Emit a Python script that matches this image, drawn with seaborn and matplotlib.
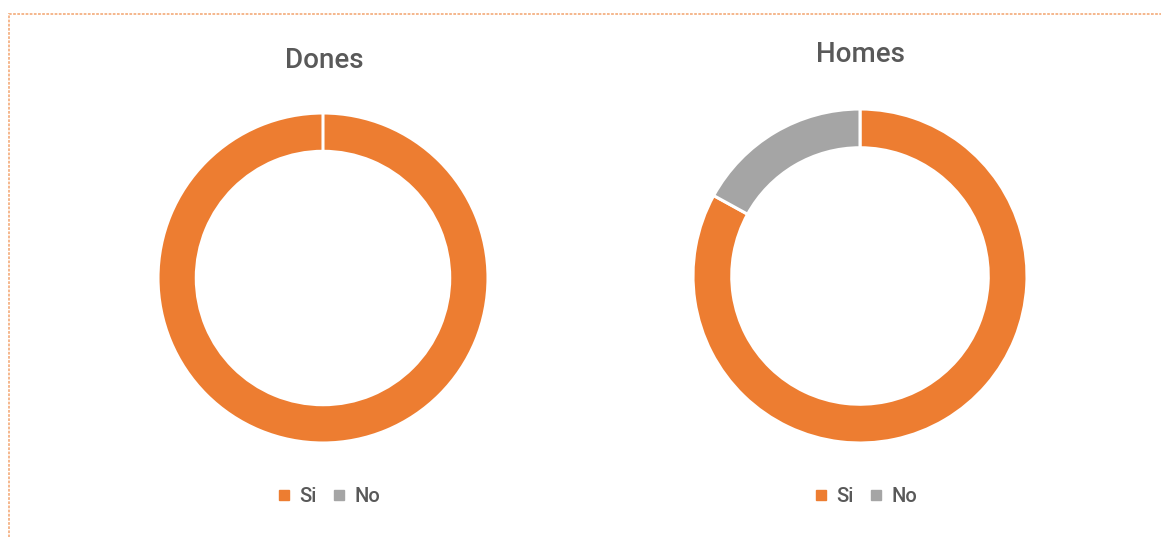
import matplotlib
matplotlib.use("Agg")
import matplotlib.pyplot as plt
import seaborn as sns
from matplotlib.lines import Line2D
from matplotlib.patches import Rectangle

sns.set_theme(style="white")
plt.rcParams['font.family'] = ['Roboto', 'DejaVu Sans']

# Data
categories = ["Si", "No"]
titles = ["Dones", "Homes"]
dones_values = [100, 0]
homes_values = [83, 17]
colors = sns.color_palette(["#ED7D31", "#A5A5A5"])

W, H = 1161, 537
fig = plt.figure(figsize=(W / 100, H / 100), dpi=100)
fig.patch.set_facecolor("white")

text_color = "#595959"

def px_axes(cx, cy, r):
    return fig.add_axes([(cx - r) / W, (H - cy - r) / H, 2 * r / W, 2 * r / H])

panels = [
    dict(values=dones_values, title=titles[0], cx=323, cy=278, r=165, ty=68, tx=324, lx=329),
    dict(values=homes_values, title=titles[1], cx=860, cy=276, r=167, ty=62, tx=861, lx=866),
]

for p in panels:
    ax = px_axes(p["cx"], p["cy"], p["r"])
    vals = p["values"]
    ax.pie(vals, colors=colors, startangle=90, counterclock=False,
           wedgeprops=dict(width=0.232, edgecolor="white", linewidth=2.2))
    ax.set_xlim(-1, 1)
    ax.set_ylim(-1, 1)
    ax.set_aspect("equal")
    ax.axis("off")
    fig.text(p["tx"] / W, 1 - p["ty"] / H, p["title"], ha="center", va="baseline",
             fontsize=20, fontweight="medium", color=text_color)
    handles = [Line2D([0], [0], marker="s", linestyle="none", markersize=6.5,
                      markerfacecolor=c, markeredgecolor=c) for c in colors]
    fig.legend(handles, categories, loc="center", bbox_to_anchor=(p["lx"] / W, 1 - 497 / H),
               ncol=2, frameon=False, prop=dict(size=14.5, weight="medium"),
               labelcolor=text_color,
               handlelength=0.6, handletextpad=0.45, columnspacing=0.8)

# dotted border
fig.patches.append(Rectangle((9 / W, -0.05), 1.1, 1 - 14 / H + 0.05, transform=fig.transFigure,
                             fill=False, edgecolor="#F4B183", linestyle=(0, (1.5, 0.8)),
                             linewidth=1.3, figure=fig))

fig.savefig("out.png", dpi=100)
